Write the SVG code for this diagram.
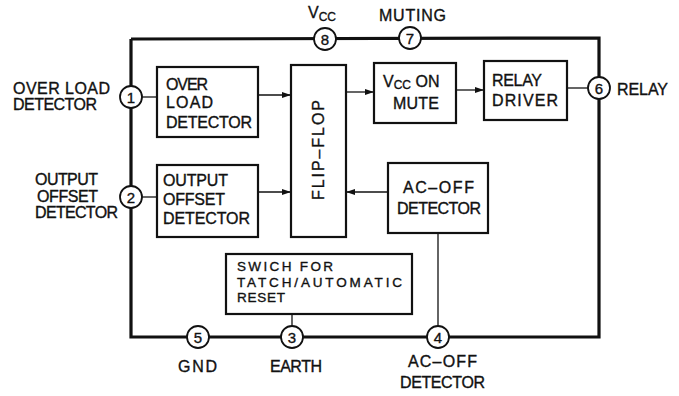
<svg xmlns="http://www.w3.org/2000/svg" width="679" height="396" viewBox="0 0 679 396">
<style>
.t{font-family:"Liberation Sans",Arial,sans-serif;font-size:16px;fill:#111;stroke:#111;stroke-width:0.35}
.w{font-family:"Liberation Sans",Arial,sans-serif;font-size:13.5px;fill:#111;stroke:#111;stroke-width:0.35}
.s{font-size:12px}
.p{font-family:"Liberation Sans",Arial,sans-serif;font-size:15px;fill:#111;stroke:#111;stroke-width:0.35;text-anchor:middle}
.box{fill:#fff;stroke:#111;stroke-width:2.2}
.pin{fill:#fff;stroke:#111;stroke-width:1.8}
.border{fill:none;stroke:#111;stroke-width:3.2}
.c{fill:none;stroke:#111;stroke-width:1.3}
</style>
<defs>
<marker id="ah" markerUnits="userSpaceOnUse" markerWidth="9" markerHeight="7" refX="9" refY="3.5" orient="auto">
<path d="M0,0.5 L9,3.5 L0,6.5 z" fill="#111"/>
</marker>
</defs>
<rect width="679" height="396" fill="#fff"/>
<g id="package">
<polyline class="border" points="131,39 599,38 599,337 131,337 131,39"/>
</g>
<g id="connectors">
<line class="c" x1="142" y1="97" x2="157" y2="97"/>
<line class="c" x1="142" y1="197" x2="157" y2="197"/>
<line class="c" x1="258" y1="95" x2="291" y2="95" marker-end="url(#ah)"/>
<line class="c" x1="258" y1="192" x2="291" y2="192" marker-end="url(#ah)"/>
<line class="c" x1="346" y1="92" x2="374" y2="92" marker-end="url(#ah)"/>
<line class="c" x1="456" y1="90" x2="484" y2="90" marker-end="url(#ah)"/>
<line class="c" x1="567" y1="88" x2="588" y2="88"/>
<line class="c" x1="388" y1="192" x2="346" y2="192" marker-end="url(#ah)"/>
<line class="c" x1="438" y1="233" x2="438" y2="326"/>
<line class="c" x1="292" y1="314" x2="292" y2="326"/>
</g>
<g id="pin1"><circle class="pin" cx="131" cy="97" r="11"/><text class="p" x="131" y="102.5">1</text>
<text class="t" x="13" y="94" textLength="97" lengthAdjust="spacing">OVER LOAD</text>
<text class="t" x="13" y="110" textLength="84" lengthAdjust="spacing">DETECTOR</text></g>
<g id="pin2"><circle class="pin" cx="131" cy="197" r="11"/><text class="p" x="131" y="202.5">2</text>
<text class="t" x="35" y="185" textLength="63" lengthAdjust="spacing">OUTPUT</text>
<text class="t" x="37" y="202" textLength="61" lengthAdjust="spacing">OFFSET</text>
<text class="t" x="35" y="218" textLength="83" lengthAdjust="spacing">DETECTOR</text></g>
<g id="pin8"><circle class="pin" cx="325" cy="39" r="11"/><text class="p" x="325" y="44.5">8</text>
<text class="t" x="308" y="18">V<tspan class="s" dy="3">CC</tspan></text></g>
<g id="pin7"><circle class="pin" cx="410" cy="38" r="11"/><text class="p" x="410" y="43.5">7</text>
<text class="t" x="379" y="21" textLength="67" lengthAdjust="spacing">MUTING</text></g>
<g id="pin6"><circle class="pin" cx="599" cy="88" r="11"/><text class="p" x="599" y="93.5">6</text>
<text class="t" x="617" y="95" textLength="51" lengthAdjust="spacing">RELAY</text></g>
<g id="pin5"><circle class="pin" cx="198" cy="337" r="11"/><text class="p" x="198" y="342.5">5</text>
<text class="t" x="178" y="372" textLength="39" lengthAdjust="spacing">GND</text></g>
<g id="pin3"><circle class="pin" cx="292" cy="337" r="11"/><text class="p" x="292" y="342.5">3</text>
<text class="t" x="270" y="372" textLength="52" lengthAdjust="spacing">EARTH</text></g>
<g id="pin4"><circle class="pin" cx="438" cy="337" r="11"/><text class="p" x="438" y="342.5">4</text>
<text class="t" x="408" y="367" textLength="69" lengthAdjust="spacing">AC–OFF</text>
<text class="t" x="400" y="388" textLength="85" lengthAdjust="spacing">DETECTOR</text></g>
<g id="overload">
<rect class="box" x="157" y="67" width="101" height="70"/>
<text class="t" x="166" y="90" textLength="42" lengthAdjust="spacing">OVER</text>
<text class="t" x="166" y="108" textLength="47" lengthAdjust="spacing">LOAD</text>
<text class="t" x="166" y="128" textLength="86" lengthAdjust="spacing">DETECTOR</text>
</g>
<g id="offset">
<rect class="box" x="157" y="165" width="101" height="72"/>
<text class="t" x="163" y="186" textLength="65" lengthAdjust="spacing">OUTPUT</text>
<text class="t" x="163" y="205" textLength="62" lengthAdjust="spacing">OFFSET</text>
<text class="t" x="163" y="224" textLength="87" lengthAdjust="spacing">DETECTOR</text>
</g>
<g id="flipflop">
<rect class="box" x="291" y="65" width="55" height="172"/>
<text class="t" transform="translate(324,150) rotate(-90)" x="-50" y="0" textLength="100" lengthAdjust="spacing">FLIP–FLOP</text>
</g>
<g id="vccmute">
<rect class="box" x="374" y="63" width="82" height="60"/>
<text class="t" x="383" y="87">V<tspan class="s" dy="2">CC</tspan><tspan dy="-2"> ON</tspan></text>
<text class="t" x="393" y="109" textLength="46" lengthAdjust="spacing">MUTE</text>
</g>
<g id="relaydriver">
<rect class="box" x="484" y="61" width="83" height="59"/>
<text class="t" x="492" y="86" textLength="50" lengthAdjust="spacing">RELAY</text>
<text class="t" x="492" y="106" textLength="66" lengthAdjust="spacing">DRIVER</text>
</g>
<g id="acoff">
<rect class="box" x="388" y="163" width="100" height="70"/>
<text class="t" x="403" y="193" textLength="71" lengthAdjust="spacing">AC–OFF</text>
<text class="t" x="397" y="214" textLength="84" lengthAdjust="spacing">DETECTOR</text>
</g>
<g id="switch">
<rect class="box" x="226" y="254" width="186" height="60"/>
<text class="w" x="237" y="271" textLength="96" lengthAdjust="spacing">SWICH FOR</text>
<text class="w" x="237" y="286.5" textLength="165" lengthAdjust="spacing">TATCH/AUTOMATIC</text>
<text class="w" x="237" y="302" textLength="48" lengthAdjust="spacing">RESET</text>
</g>
</svg>
